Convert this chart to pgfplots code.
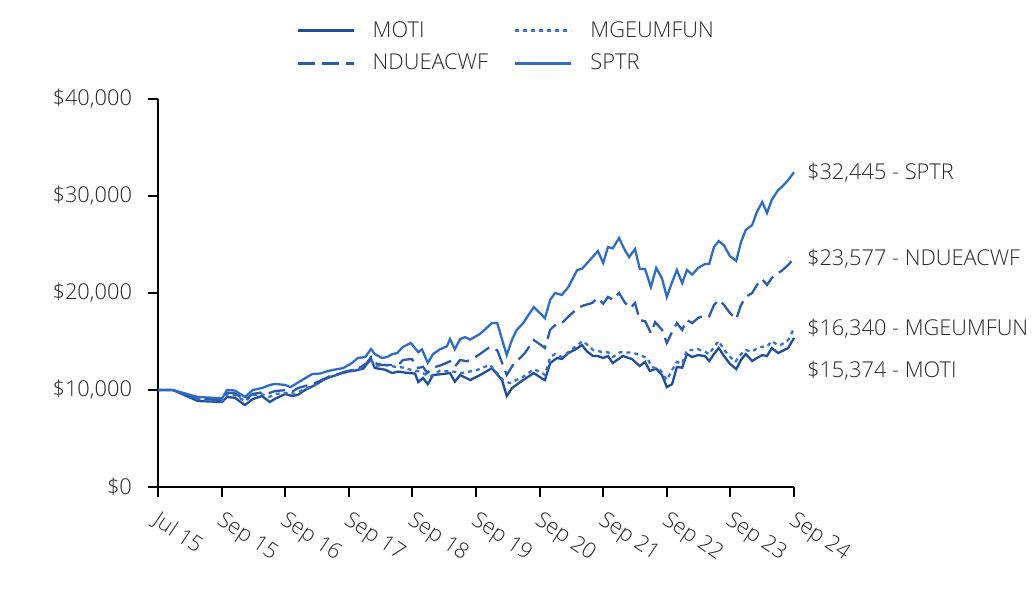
\documentclass[border=0pt]{standalone}
\usepackage{fontspec}
\setmainfont{Open Sans Light}
\usepackage{pgfplots}
\pgfplotsset{compat=1.18}
\definecolor{cMOTI}{HTML}{1F4E9C}
\definecolor{cNDUE}{HTML}{2A5CAE}
\definecolor{cMGEU}{HTML}{3A70D2}
\definecolor{cSPTR}{HTML}{2F6CC8}
\definecolor{txt}{HTML}{262626}
\begin{document}
\begin{tikzpicture}
\path[use as bounding box] (-79pt,-62.5pt) rectangle (437pt,243.5pt);
\begin{axis}[
  scale only axis, width=318pt, height=194pt,
  at={(0,0)}, anchor=south west,
  xmin=0, xmax=120, ymin=0, ymax=40000,
  scaled ticks=false,
  axis x line*=bottom, axis y line*=left,
  axis line style={black, line width=1pt},
  tick style={black, line width=1pt},
  major tick length=5pt, tick align=outside,
  xtick={0,12,...,120},
  xticklabels={Jul 15,Sep 15,Sep 16,Sep 17,Sep 18,Sep 19,Sep 20,Sep 21,Sep 22,Sep 23,Sep 24},
  x tick label style={rotate=-34, anchor=north west, xshift=1.5pt, yshift=-1pt},
  ytick={0,10000,20000,30000,40000},
  yticklabels={{\$0},{\$10,000},{\$20,000},{\$30,000},{\$40,000}},
  y tick label style={xshift=-4.5pt},
  tick label style={font=\fontsize{10.9}{13}\selectfont, text=txt},
  clip=false,
  legend columns=2,
  legend style={draw=none, fill=none, at={(0.549,1.134)}, anchor=center,
    font=\fontsize{10.9}{13}\selectfont, text=txt,
    /tikz/every odd column/.append style={column sep=7pt},
    /tikz/every even column/.append style={column sep=11pt},
    row sep=3pt},
  legend image code/.code={\draw[#1] (0pt,0pt) -- (28pt,0pt);},
  legend cell align=left,
]
\addplot[cMOTI, line width=1.15pt] coordinates {
(0,10000)(2.8,10000)(7.5,8870)(12.1,8760)(13.0,9280)(14.5,9200)(16.4,8450)(17.9,9070)(19.6,9380)(21.1,8760)(22.1,9100)(24.0,9590)(25.3,9380)(26.4,9500)(27.7,10000)(29.6,10500)(31.5,11130)(33.4,11500)(35.3,11860)(37.2,12000)(38.7,12200)(40.2,13200)(40.9,12270)(42.8,12100)(44.2,11750)(45.3,11900)(47.2,11750)(48.5,11700)(49.1,10820)(50.0,11240)(50.9,10600)(51.9,11550)(53.8,11650)(55.1,11750)(56.0,10860)(57.0,11550)(58.9,11030)(60.8,11550)(63.0,12250)(64.9,11030)(65.8,9380)(66.8,10200)(68.9,11030)(70.9,11750)(72.6,11130)(73.0,11030)(74.0,12780)(75.3,13300)(76.2,13200)(77.4,13800)(78.9,14230)(80.0,14640)(80.9,14000)(82.1,13500)(83.0,13500)(84.0,13300)(84.9,13500)(85.8,12780)(87.7,13500)(89.4,13200)(90.9,12470)(91.9,12900)(92.8,11960)(94.0,12200)(95.1,11550)(96.0,10300)(97.0,10600)(97.9,12370)(98.9,12300)(99.8,13710)(100.8,13400)(101.9,13600)(103.2,13500)(104.0,12990)(104.9,13700)(105.8,14330)(106.8,13500)(107.9,12700)(109.1,12160)(110.0,13100)(110.9,13710)(112.1,12990)(113.0,13300)(114.0,13600)(114.9,13500)(115.8,14330)(117.0,13810)(117.7,14000)(118.9,14330)(120,15374)
};
\addlegendentry{MOTI}
\addplot[cMGEU, line width=1.15pt, dash pattern=on 2pt off 2pt] coordinates {
(0,10000)(2.8,10000)(7.5,9050)(12.1,8850)(13.0,9550)(14.5,9500)(16.4,8850)(17.9,9500)(19.6,9550)(21.1,9300)(22.1,9600)(24.5,9690)(25.8,9600)(27.7,10100)(29.6,10500)(31.5,11240)(34.0,11600)(36.6,12000)(38.5,12300)(40.2,13090)(40.9,12500)(42.8,12580)(44.7,12400)(46.6,12300)(47.2,12150)(49.4,11900)(51.3,11370)(53.2,12000)(55.8,11890)(57.4,11750)(60.2,12060)(62.6,12600)(65.1,11030)(66.4,10700)(68.9,11370)(70.9,12150)(72.5,11750)(73.0,11550)(74.0,13400)(74.9,13700)(76.2,13400)(77.4,13900)(79.1,14640)(80.2,15050)(82.1,14120)(84.0,13900)(84.9,13900)(85.8,13400)(87.2,13900)(89.6,13850)(90.9,13600)(92.3,13300)(93.2,12370)(94.7,12100)(96.0,11030)(97.0,12060)(97.9,12890)(98.9,12700)(99.8,14120)(100.8,14120)(101.9,14200)(103.2,13950)(104.0,13700)(104.9,14450)(105.8,15050)(106.8,14120)(107.9,13450)(108.9,12890)(110.0,13700)(110.9,14120)(112.1,13950)(113.0,14300)(114.0,14450)(114.9,14450)(115.8,15050)(117.0,14600)(117.7,14700)(118.9,15150)(120,16340)
};
\addlegendentry{MGEUMFUN}
\addplot[cNDUE, line width=1.15pt, dash pattern=on 8.5pt off 3.5pt] coordinates {
(0,10000)(2.8,10000)(7.5,9150)(12.1,8950)(13.0,9730)(14.5,9650)(16.4,9000)(17.9,9600)(19.6,9750)(21.1,9700)(22.1,9900)(24.5,10000)(25.3,9820)(26.4,10200)(27.7,10400)(29.6,10720)(30.9,11030)(32.5,11440)(34.0,11650)(35.3,11890)(36.6,12060)(38.3,12370)(39.4,12780)(40.2,13400)(40.9,12780)(42.3,12580)(44.2,12580)(45.7,12780)(46.2,13090)(47.9,13200)(49.1,12270)(50.0,12400)(50.8,11750)(51.9,12300)(53.6,12600)(55.1,12960)(56.0,12400)(57.0,13100)(58.3,12960)(60.2,13500)(62.6,14430)(64.0,14100)(65.8,11550)(67.0,12600)(69.2,13800)(70.9,15150)(72.6,14500)(73.0,14330)(74.0,16200)(75.3,16900)(76.4,17000)(77.7,17700)(79.2,18450)(80.2,18700)(81.9,18970)(83.0,19480)(84.0,18900)(84.9,19600)(85.8,19300)(87.0,20000)(88.1,19000)(89.1,18450)(90.0,18970)(90.9,17200)(91.9,17100)(93.0,15870)(93.8,17000)(95.1,16200)(96.0,14850)(97.0,16000)(97.9,16900)(98.9,16200)(99.8,17200)(100.8,16900)(101.9,17420)(103.2,17730)(104.0,17600)(104.9,18760)(105.8,19280)(106.8,18760)(107.9,17940)(109.1,17320)(110.0,18760)(110.9,19590)(112.1,20000)(113.0,20820)(114.0,21440)(114.9,20820)(115.8,21550)(117.0,22060)(117.7,22300)(118.9,22890)(120,23577)
};
\addlegendentry{NDUEACWF}
\addplot[cSPTR, line width=1.15pt] coordinates {
(0,10000)(2.8,10000)(7.5,9280)(12.1,9150)(13.0,10000)(14.5,9950)(16.4,9280)(17.9,10000)(19.6,10200)(21.1,10520)(22.1,10630)(24.0,10520)(25.0,10300)(27.2,11030)(29.1,11650)(30.6,11700)(32.1,11960)(33.8,12150)(34.9,12250)(36.6,12780)(37.7,13300)(39.1,13400)(40.2,14230)(40.9,13700)(42.3,13300)(43.2,13400)(44.2,13700)(45.1,13800)(46.2,14430)(47.7,14850)(49.1,13900)(49.8,14200)(50.9,12800)(51.9,13700)(53.2,14200)(54.5,14500)(55.1,15250)(56.0,14200)(57.0,15250)(57.9,15450)(58.9,15200)(60.8,15800)(63.0,16900)(64.0,16900)(65.8,13600)(66.8,15200)(67.7,16200)(68.9,16900)(70.9,18550)(72.5,17700)(73.0,17400)(74.0,19300)(74.9,20000)(76.2,19800)(77.4,20600)(79.1,22370)(80.0,22500)(81.5,23400)(83.0,24330)(84.0,23100)(84.9,24740)(85.8,24600)(87.0,25670)(88.1,24400)(88.9,23700)(90.0,24540)(90.9,22470)(91.9,22470)(93.0,20600)(94.0,22580)(95.1,21500)(96.0,19600)(97.0,21130)(97.9,22370)(98.9,21030)(99.8,22370)(100.8,21900)(101.9,22580)(103.2,22990)(104.0,23000)(104.9,24740)(105.8,25360)(106.8,24900)(107.9,23810)(109.1,23300)(110.0,25260)(110.9,26500)(112.1,27010)(113.0,28350)(114.0,29380)(114.9,28250)(115.8,29590)(117.0,30620)(117.7,30930)(118.9,31650)(120,32445)
};
\addlegendentry{SPTR}
\begin{scope}[every node/.style={anchor=west, xshift=3pt, text=txt, font=\fontsize{10.9}{13}\selectfont}]
\node at (axis cs:120,32445) {\$32,445 - SPTR};
\node at (axis cs:120,23577) {\$23,577 - NDUEACWF};
\node at (axis cs:120,16340) {\$16,340 - MGEUMFUN};
\node at (axis cs:120,12000) {\$15,374 - MOTI};
\end{scope}
\end{axis}
\end{tikzpicture}
\end{document}
